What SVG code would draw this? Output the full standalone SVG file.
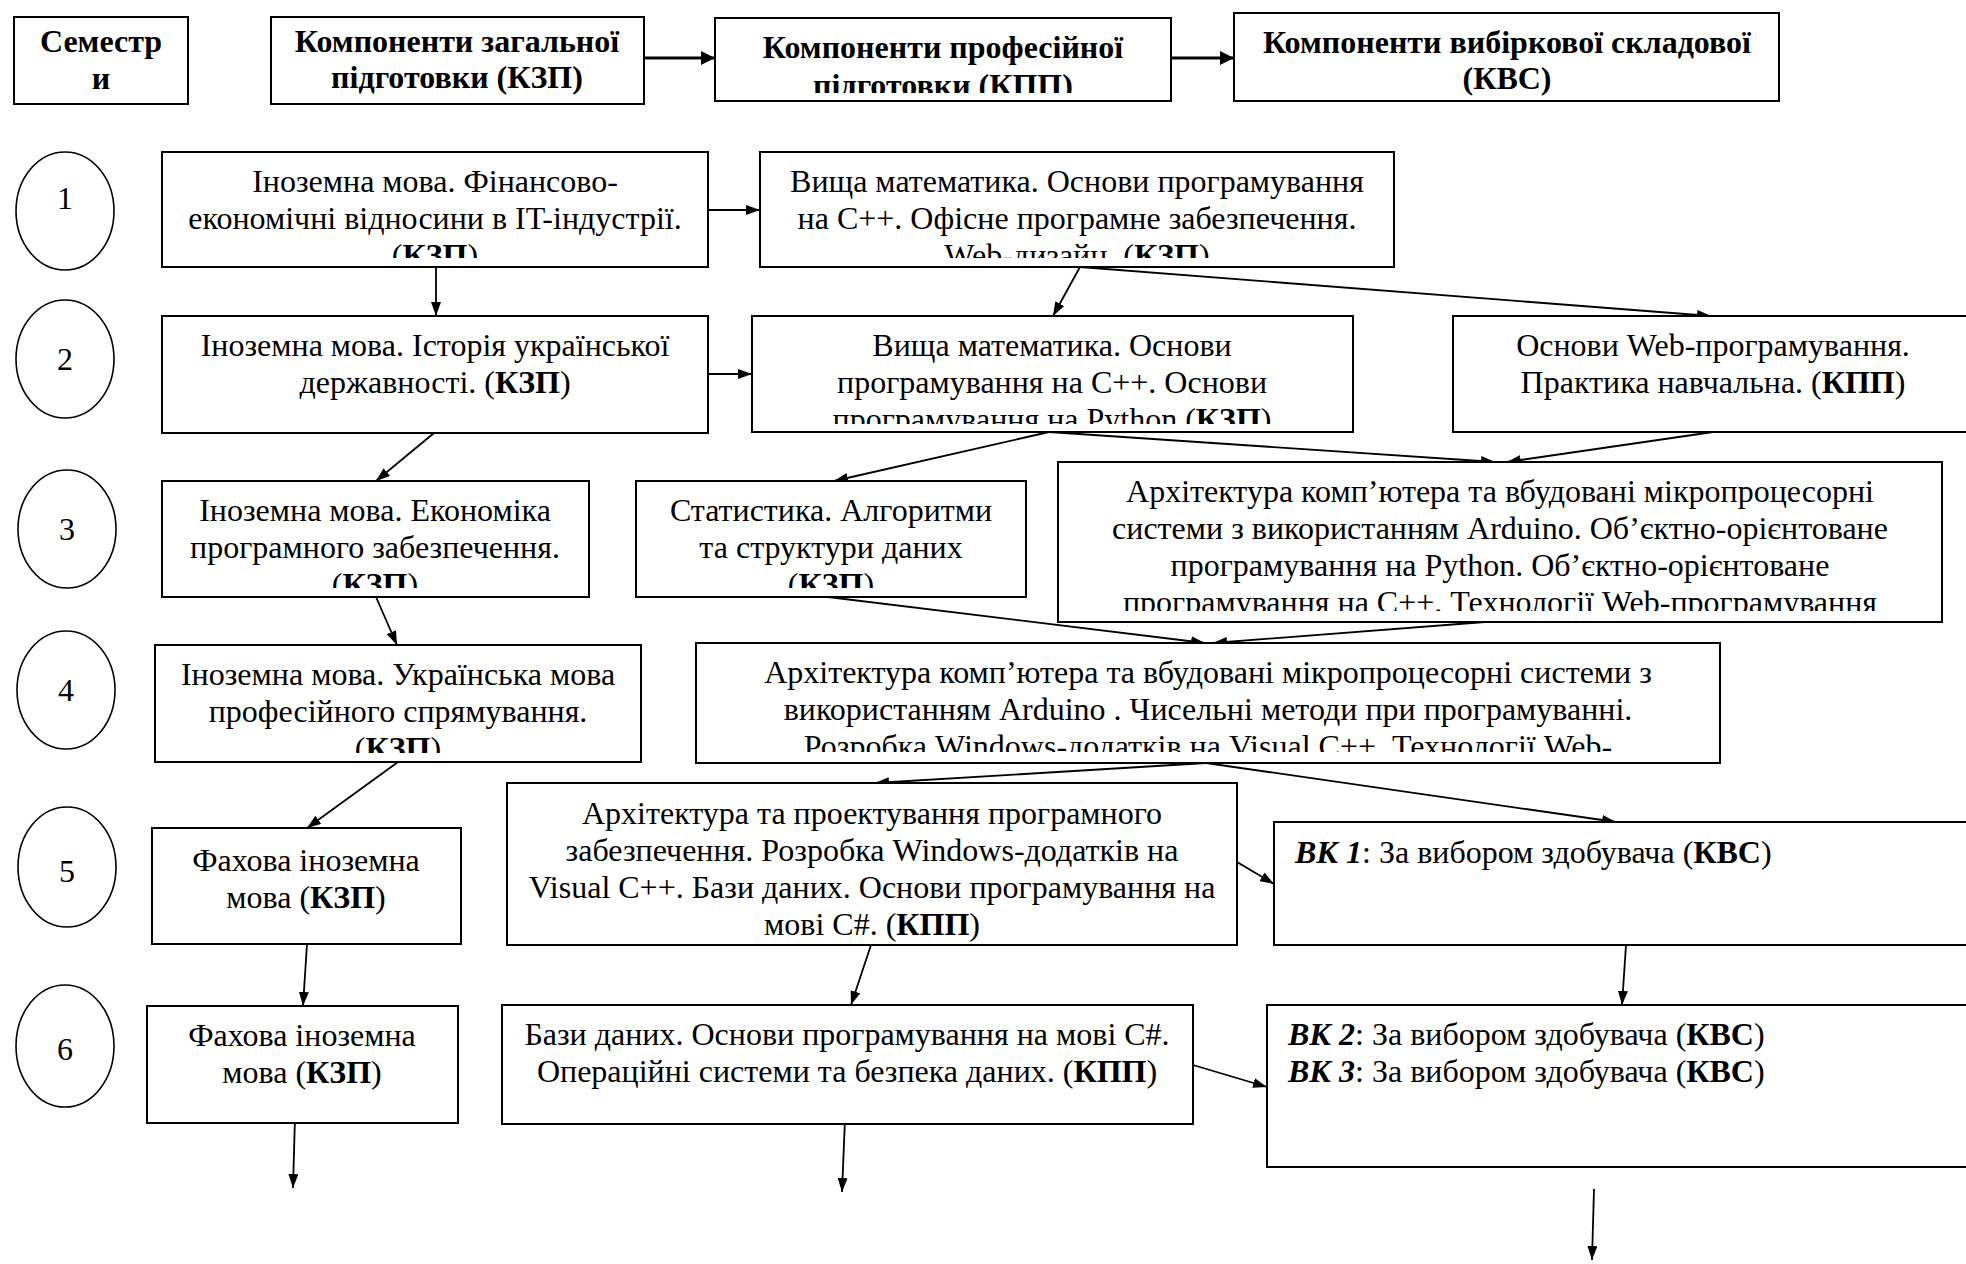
<svg xmlns="http://www.w3.org/2000/svg" width="1966" height="1264" viewBox="0 0 1966 1264">
<style>
text{font-family:"Liberation Serif","Times New Roman",serif;font-size:32px;fill:#000}
.c{text-anchor:middle}
.b{font-weight:bold}
.bi{font-weight:bold;font-style:italic}
.box{fill:#fff;stroke:#000;stroke-width:2}
.ell{fill:#fff;stroke:#000;stroke-width:1.6}
.ln{stroke:#000;stroke-width:1.8;fill:none;marker-end:url(#ah)}
.hl{stroke:#000;stroke-width:3;fill:none;marker-end:url(#ahb)}
</style>
<defs>
<marker id="ah" viewBox="0 0 14 10" refX="14" refY="5" markerWidth="14" markerHeight="10" orient="auto" markerUnits="userSpaceOnUse"><path d="M0,0 L14,5 L0,10 z" fill="#000"/></marker>
<marker id="ahb" viewBox="0 0 14 14" refX="14" refY="7" markerWidth="14" markerHeight="14" orient="auto" markerUnits="userSpaceOnUse"><path d="M0,0 L14,7 L0,14 z" fill="#000"/></marker>
<clipPath id="cpH3"><rect x="715" y="18" width="456" height="75"/></clipPath>
<clipPath id="cpA1"><rect x="162" y="152" width="546" height="106"/></clipPath>
<clipPath id="cpB1"><rect x="760" y="152" width="634" height="106"/></clipPath>
<clipPath id="cpB2"><rect x="752" y="316" width="601" height="108"/></clipPath>
<clipPath id="cpA3"><rect x="162" y="481" width="427" height="107"/></clipPath>
<clipPath id="cpB3"><rect x="636" y="481" width="390" height="107"/></clipPath>
<clipPath id="cpC3"><rect x="1058" y="462" width="884" height="149"/></clipPath>
<clipPath id="cpA4"><rect x="155" y="645" width="486" height="108"/></clipPath>
<clipPath id="cpB4"><rect x="696" y="643" width="1024" height="109"/></clipPath>
</defs>
<rect width="1966" height="1264" fill="#fff"/>

<g id="connectors">
<line class="hl" x1="644" y1="58" x2="715" y2="58"/>
<line class="hl" x1="1171" y1="58" x2="1234" y2="58"/>
<line class="ln" x1="708" y1="210" x2="760" y2="210"/>
<line class="ln" x1="436" y1="267" x2="436" y2="316"/>
<line class="ln" x1="1080" y1="267" x2="1053" y2="316"/>
<line class="ln" x1="1080" y1="267" x2="1711" y2="316"/>
<line class="ln" x1="708" y1="374" x2="752" y2="374"/>
<line class="ln" x1="434" y1="433" x2="376" y2="481"/>
<line class="ln" x1="1049" y1="432" x2="834" y2="481"/>
<line class="ln" x1="1049" y1="432" x2="1495" y2="462"/>
<line class="ln" x1="1713" y1="432" x2="1507" y2="462"/>
<line class="ln" x1="376" y1="597" x2="397" y2="645"/>
<line class="ln" x1="828" y1="597" x2="1205" y2="643"/>
<line class="ln" x1="1485" y1="622" x2="1213" y2="643"/>
<line class="ln" x1="398" y1="762" x2="307" y2="828"/>
<line class="ln" x1="1206" y1="763" x2="875" y2="783"/>
<line class="ln" x1="1206" y1="763" x2="1616" y2="822"/>
<line class="ln" x1="1237" y1="862" x2="1274" y2="884"/>
<line class="ln" x1="307" y1="944" x2="303" y2="1006"/>
<line class="ln" x1="871" y1="945" x2="851" y2="1005"/>
<line class="ln" x1="1626" y1="945" x2="1622" y2="1005"/>
<line class="ln" x1="1193" y1="1065" x2="1267" y2="1087"/>
<line class="ln" x1="295" y1="1117" x2="293" y2="1188"/>
<line class="ln" x1="845" y1="1119" x2="842" y2="1192"/>
<line class="ln" x1="1594" y1="1189" x2="1592" y2="1260"/>
</g>

<g id="hdr-sem"><rect class="box" x="14" y="17" width="174" height="87"/>
<text class="c b" x="101" y="52">Семестр</text><text class="c b" x="101" y="89">и</text></g>
<g id="hdr-kzp"><rect class="box" x="271" y="17" width="373" height="87"/>
<text class="c b" x="457" y="52">Компоненти загальної</text><text class="c b" x="457" y="88">підготовки (КЗП)</text></g>
<g id="hdr-kpp"><rect class="box" x="715" y="18" width="456" height="83"/>
<g clip-path="url(#cpH3)"><text class="c b" x="943" y="58">Компоненти професійної</text><text class="c b" x="943" y="96">підготовки (КПП)</text></g></g>
<g id="hdr-kvs"><rect class="box" x="1234" y="13" width="545" height="88"/>
<text class="c b" x="1507" y="53">Компоненти вибіркової складової</text><text class="c b" x="1507" y="89">(КВС)</text></g>

<g id="sem1"><ellipse class="ell" cx="65" cy="211" rx="49" ry="59"/><text class="c" x="65" y="209">1</text></g>
<g id="sem2"><ellipse class="ell" cx="65" cy="359" rx="49" ry="59"/><text class="c" x="65" y="370">2</text></g>
<g id="sem3"><ellipse class="ell" cx="67" cy="529" rx="49" ry="59"/><text class="c" x="67" y="540">3</text></g>
<g id="sem4"><ellipse class="ell" cx="66" cy="690" rx="49" ry="59"/><text class="c" x="66" y="701">4</text></g>
<g id="sem5"><ellipse class="ell" cx="67" cy="867" rx="49" ry="60"/><text class="c" x="67" y="882">5</text></g>
<g id="sem6"><ellipse class="ell" cx="65" cy="1046" rx="49" ry="61"/><text class="c" x="65" y="1060">6</text></g>

<g id="a1"><rect class="box" x="162" y="152" width="546" height="115"/>
<g clip-path="url(#cpA1)"><text class="c" x="435" y="192">Іноземна мова. Фінансово-</text><text class="c" x="435" y="229">економічні відносини в IT-індустрії.</text><text class="c" x="435" y="266">(<tspan class="b">КЗП</tspan>)</text></g></g>
<g id="b1"><rect class="box" x="760" y="152" width="634" height="115"/>
<g clip-path="url(#cpB1)"><text class="c" x="1077" y="192">Вища математика. Основи програмування</text><text class="c" x="1077" y="229">на С++. Офісне програмне забезпечення.</text><text class="c" x="1077" y="266">Web-дизайн. (<tspan class="b">КЗП</tspan>)</text></g></g>

<g id="a2"><rect class="box" x="162" y="316" width="546" height="117"/>
<text class="c" x="435" y="356">Іноземна мова. Історія української</text><text class="c" x="435" y="393">державності. (<tspan class="b">КЗП</tspan>)</text></g>
<g id="b2"><rect class="box" x="752" y="316" width="601" height="116"/>
<g clip-path="url(#cpB2)"><text class="c" x="1052" y="356">Вища математика. Основи</text><text class="c" x="1052" y="393">програмування на С++. Основи</text><text class="c" x="1052" y="430">програмування на Python (<tspan class="b">КЗП</tspan>)</text></g></g>
<g id="c2"><rect class="box" x="1453" y="316" width="530" height="116"/>
<text class="c" x="1713" y="356">Основи Web-програмування.</text><text class="c" x="1713" y="393">Практика навчальна. (<tspan class="b">КПП</tspan>)</text></g>

<g id="a3"><rect class="box" x="162" y="481" width="427" height="116"/>
<g clip-path="url(#cpA3)"><text class="c" x="375" y="521">Іноземна мова. Економіка</text><text class="c" x="375" y="558">програмного забезпечення.</text><text class="c" x="375" y="595">(<tspan class="b">КЗП</tspan>)</text></g></g>
<g id="b3"><rect class="box" x="636" y="481" width="390" height="116"/>
<g clip-path="url(#cpB3)"><text class="c" x="831" y="521">Статистика. Алгоритми</text><text class="c" x="831" y="558">та структури даних</text><text class="c" x="831" y="595">(<tspan class="b">КЗП</tspan>)</text></g></g>
<g id="c3"><rect class="box" x="1058" y="462" width="884" height="160"/>
<g clip-path="url(#cpC3)"><text class="c" x="1500" y="502">Архітектура комп’ютера та вбудовані мікропроцесорні</text><text class="c" x="1500" y="539">системи з використанням Arduino. Об’єктно-орієнтоване</text><text class="c" x="1500" y="576">програмування на Python. Об’єктно-орієнтоване</text><text class="c" x="1500" y="613">програмування на С++. Технології Web-програмування</text></g></g>

<g id="a4"><rect class="box" x="155" y="645" width="486" height="117"/>
<g clip-path="url(#cpA4)"><text class="c" x="398" y="685">Іноземна мова. Українська мова</text><text class="c" x="398" y="722">професійного спрямування.</text><text class="c" x="398" y="759">(<tspan class="b">КЗП</tspan>)</text></g></g>
<g id="b4"><rect class="box" x="696" y="643" width="1024" height="120"/>
<g clip-path="url(#cpB4)"><text class="c" x="1208" y="683">Архітектура комп’ютера та вбудовані мікропроцесорні системи з</text><text class="c" x="1208" y="720">використанням Arduino . Чисельні методи при програмуванні.</text><text class="c" x="1208" y="757">Розробка Windows-додатків на Visual С++. Технології Web-</text></g></g>

<g id="a5"><rect class="box" x="152" y="828" width="309" height="116"/>
<text class="c" x="306" y="871">Фахова іноземна</text><text class="c" x="306" y="908">мова (<tspan class="b">КЗП</tspan>)</text></g>
<g id="b5"><rect class="box" x="507" y="783" width="730" height="162"/>
<text class="c" x="872" y="824">Архітектура та проектування програмного</text><text class="c" x="872" y="861">забезпечення. Розробка Windows-додатків на</text><text class="c" x="872" y="898">Visual С++. Бази даних. Основи програмування на</text><text class="c" x="872" y="935">мові С#. (<tspan class="b">КПП</tspan>)</text></g>
<g id="c5"><rect class="box" x="1274" y="822" width="710" height="123"/>
<text x="1295" y="863"><tspan class="bi">ВК 1</tspan>: За вибором здобувача (<tspan class="b">КВС</tspan>)</text></g>

<g id="a6"><rect class="box" x="147" y="1006" width="311" height="117"/>
<text class="c" x="302" y="1046">Фахова іноземна</text><text class="c" x="302" y="1083">мова (<tspan class="b">КЗП</tspan>)</text></g>
<g id="b6"><rect class="box" x="502" y="1005" width="691" height="119"/>
<text class="c" x="847" y="1045">Бази даних. Основи програмування на мові С#.</text><text class="c" x="847" y="1082">Операційні системи та безпека даних. (<tspan class="b">КПП</tspan>)</text></g>
<g id="c6"><rect class="box" x="1267" y="1005" width="717" height="162"/>
<text x="1288" y="1045"><tspan class="bi">ВК 2</tspan>: За вибором здобувача (<tspan class="b">КВС</tspan>)</text><text x="1288" y="1082"><tspan class="bi">ВК 3</tspan>: За вибором здобувача (<tspan class="b">КВС</tspan>)</text></g>
</svg>
